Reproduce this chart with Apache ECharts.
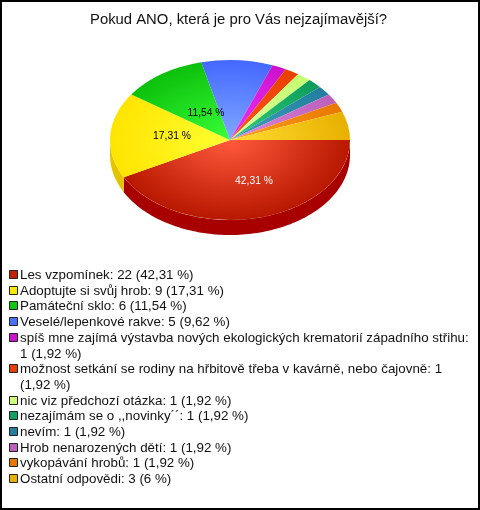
<!DOCTYPE html>
<html><head><meta charset="utf-8">
<style>html,body{margin:0;padding:0;background:#fff}#c{width:480px;height:510px}</style>
<script src="https://cdn.jsdelivr.net/npm/echarts@6/dist/echarts.min.js"></script>
</head><body><div id="c"></div>
<script>
var titleText = 'Pokud ANO, která je pro Vás nejzajímavější?';
var categories = ['Les vzpomínek','Adoptujte si svůj hrob','Památeční sklo','Veselé/lepenkové rakve',
 'spíš mne zajímá výstavba nových ekologických krematorií západního střihu','možnost setkání se rodiny na hřbitově třeba v kavárně, nebo čajovně',
 'nic viz předchozí otázka','nezajímám se o ,,novinky´´','nevím','Hrob nenarozených dětí','vykopávání hrobů','Ostatní odpovědi'];
var values = [22,9,6,5,1,1,1,1,1,1,1,3];
var percents = ['42,31 %','17,31 %','11,54 %','9,62 %','1,92 %','1,92 %','1,92 %','1,92 %','1,92 %','1,92 %','1,92 %','6 %'];
var legendColors = ['#c42000','#ffe600','#10c810','#4a70ff','#cc11cc','#e84000','#ccff77','#10a060','#207f9f','#bb5fbb','#e87800','#e8b000'];
var innerColors = ['#ff5a3c','#ffff33','#38ff38','#80a8ff','#ee33ff','#ff5520','#ddff99','#33cc77','#44a0bb','#dd88dd','#ffa020','#ffdd33'];
var outerColors = ['#b81800','#ffe400','#0cc00c','#4468ff','#cc11cc','#e84000','#c4ff70','#0c9c5c','#207f9f','#bb5fbb','#e87800','#e8b000'];
var sideColors = ['#a80000','#e4c400','#0a900a','#3048c0','#990c99','#b03000','#94c050','#087040','#185f78','#8c478c','#b05800','#b08400'];
var sliceLabels = {0:[24,41,'#fff'],1:[-58,-4,'#000'],2:[-24,-27,'#000']};

var CX=230, CY=140, RX=120, RY=80, DEPTH=15;
var total = values.reduce(function(a,b){return a+b;},0);

function renderItem(params, api){
  var i = params.dataIndex, before = 0;
  for (var k=0;k<i;k++) before += values[k];
  var a0 = before/total*Math.PI*2, a1 = (before+api.value(0))/total*Math.PI*2;
  var kids = [];
  var s0 = Math.max(a0,0), s1 = Math.min(a1,Math.PI);
  if (s1 > s0){
    var top=[], bot=[], n=Math.ceil((s1-s0)*40);
    for (var j=0;j<=n;j++){
      var a=s0+(s1-s0)*j/n, x=CX+RX*Math.cos(a), y=CY+RY*Math.sin(a);
      top.push([x,y]); bot.unshift([x,y+DEPTH]);
    }
    kids.push({type:'polygon',shape:{points:top.concat(bot)},style:{fill:sideColors[i]}});
  }
  kids.push({type:'group',x:CX,y:CY,scaleY:RY/RX,children:[{
    type:'sector',
    shape:{cx:0,cy:0,r:RX,r0:0,startAngle:a0,endAngle:a1,clockwise:true},
    style:{fill:{type:'radial',x:0,y:0,r:RX,global:true,
      colorStops:[{offset:0,color:innerColors[i]},{offset:1,color:outerColors[i]}]}}
  }]});
  return {type:'group',children:kids};
}
function renderLabels(params, api){
  var l = sliceLabels[params.dataIndex];
  if(!l) return {type:'group',children:[]};
  return {type:'text',x:CX+l[0],y:CY+l[1],z2:50,style:{text:percents[params.dataIndex],fill:l[2],
    font:'10.3px "Liberation Sans",Arial,sans-serif',align:'center',verticalAlign:'middle'}};
}

var lg = [], row = 0, FONT='13.35px "Liberation Sans",Arial,sans-serif', LH=15.7, TOP=269;
categories.forEach(function(c,i){
  var t = c+': '+values[i]+' ('+percents[i]+')';
  var lines = [t];
  if (i===4) lines = [c+':', values[i]+' ('+percents[i]+')'];
  if (i===5) lines = [c+': '+values[i], '('+percents[i]+')'];
  lg.push({type:'rect',x:9.5,y:Math.round(TOP+row*LH)+1.5,shape:{width:8,height:8},style:{fill:legendColors[i],stroke:'#222',lineWidth:1}});
  lines.forEach(function(s){
    lg.push({type:'text',x:20,y:Math.round(TOP+row*LH),style:{text:s,font:FONT,fill:'#111'}});
    row++;
  });
});
lg.push({type:'rect',x:0,y:0,shape:{x:1,y:1,width:478,height:508},style:{fill:'none',stroke:'#000',lineWidth:2}});

var chart = echarts.init(document.getElementById('c'),null,{renderer:'canvas'});
chart.setOption({
  animation:false,
  backgroundColor:'#fff',
  title:{text:titleText,left:90,top:12,padding:0,itemGap:0,textStyle:{fontFamily:'"Liberation Sans",Arial,sans-serif',fontSize:14.85,fontWeight:'normal',color:'#111'}},
  graphic:lg,
  series:[
    {type:'custom',coordinateSystem:'none',silent:true,renderItem:renderItem,data:values.map(function(v,i){return {name:categories[i],value:[v]};}),z:2},
    {type:'custom',coordinateSystem:'none',silent:true,renderItem:renderLabels,data:values.map(function(v,i){return {name:categories[i],value:[v]};}),z:3}
  ]
});
</script></body></html>
